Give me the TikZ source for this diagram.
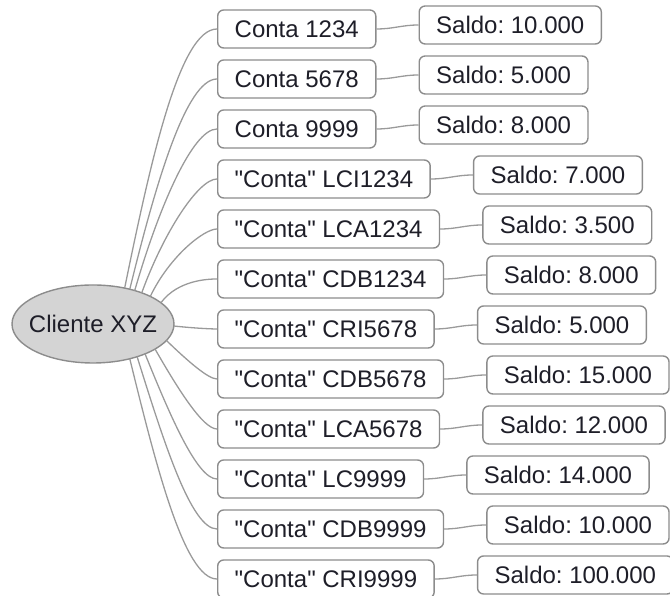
\documentclass[tikz,border=0pt]{standalone}
\usepackage{fontspec}
\setmainfont{Liberation Sans}
\usetikzlibrary{shapes.geometric,calc}
\definecolor{bordergray}{HTML}{8C8C8C}
\definecolor{linegray}{HTML}{9A9A9A}
\definecolor{rootfill}{HTML}{D4D4D4}
\definecolor{txt}{HTML}{1E1E28}
\newcommand{\qq}{\textquotedbl}
\begin{document}
\frenchspacing
\begin{tikzpicture}[x=1pt,y=1pt,
  every node/.style={font=\fontsize{24pt}{28pt}\selectfont, text=txt},
  acct/.style={draw=bordergray, line width=1.4pt, rounded corners=6pt, fill=white,
    minimum height=38pt, inner xsep=17pt, inner ysep=0pt, anchor=west},
  saldo/.style={acct},
  root/.style={ellipse, draw=bordergray, fill=rootfill, line width=1.4pt,
    minimum width=162pt, minimum height=78pt, inner sep=0pt},
  roottext/.style={inner sep=0pt},
  link/.style={draw=linegray, line width=1.3pt},
]
\useasboundingbox (0,0) rectangle (670,596);
\node[root] (root) at (93,272) {};
\node[roottext] (rootlabel) at (root.center) {Cliente XYZ};
\foreach \i/\lab/\sal/\ang/\ou in {
  1/Conta 1234/10.000/67/78.4,
  2/Conta 5678/5.000/63/76.2,
  3/Conta 9999/8.000/59/73.9,
  4/\qq Conta\qq{} LCI1234/7.000/53/70.1,
  5/\qq Conta\qq{} LCA1234/3.500/45/64.3,
  6/\qq Conta\qq{} CDB1234/8.000/33/53.4,
  7/\qq Conta\qq{} CRI5678/5.000/-3/-6,
  8/\qq Conta\qq{} CDB5678/15.000/-25/-44,
  9/\qq Conta\qq{} LCA5678/12.000/-40/-60.2,
  10/\qq Conta\qq{} LC9999/14.000/-50/-68,
  11/\qq Conta\qq{} CDB9999/10.000/-57/-72.6,
  12/\qq Conta\qq{} CRI9999/100.000/-63/-76.2} {
  \pgfmathsetmacro\yy{567-50*(\i-1)}
  \node[acct] (a\i) at (217,\yy) {\lab};
  \node[saldo] (s\i) at ($(a\i.east)+(42,4)$) {Saldo: \sal};
  \coordinate (e\i) at ($(root.center)+(\ang:81 and 39)$);
  \draw[link] (e\i) to[out=\ou,in=180,out looseness=1.2,in looseness=0.35] (a\i.west);
  \draw[link] (a\i.east) to[out=0,in=180] (s\i.west);
}
\end{tikzpicture}
\end{document}
